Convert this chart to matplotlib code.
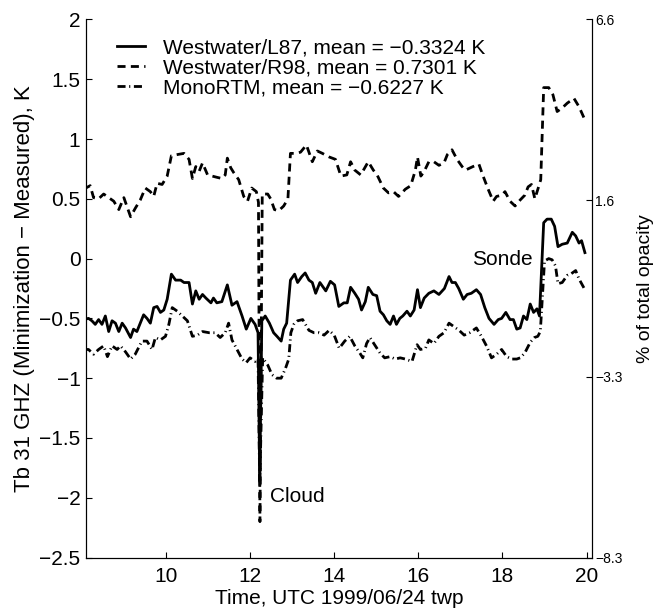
import numpy as np
import matplotlib
matplotlib.use("Agg")
import matplotlib.pyplot as plt

# Westwater/L87 (solid)
t_l87 = [8.04, 8.16, 8.24, 8.32, 8.40, 8.48, 8.56, 8.64, 8.72, 8.80, 8.88, 8.96, 9.04, 9.16,
         9.23, 9.31, 9.39, 9.47, 9.55, 9.63, 9.71, 9.79, 9.87, 9.95, 10.03, 10.13, 10.23, 10.35,
         10.43, 10.55, 10.63, 10.71, 10.79, 10.87, 10.95, 11.07, 11.13, 11.21, 11.33, 11.46, 11.57,
         11.69, 11.81, 11.91, 12.02, 12.12, 12.19, 12.23, 12.28, 12.36, 12.46, 12.56, 12.64, 12.74,
         12.80, 12.87, 12.96, 13.06, 13.13, 13.23, 13.31, 13.40, 13.48, 13.56, 13.66, 13.80, 13.91,
         14.01, 14.11, 14.23, 14.31, 14.39, 14.49, 14.58, 14.65, 14.74, 14.81, 14.92, 15.01, 15.09,
         15.17, 15.25, 15.33, 15.41, 15.48, 15.56, 15.63, 15.73, 15.81, 15.90, 15.98, 16.05, 16.14,
         16.25, 16.37, 16.49, 16.62, 16.73, 16.80, 16.88, 16.96, 17.07, 17.16, 17.26, 17.38, 17.48,
         17.58, 17.68, 17.80, 17.90, 17.98, 18.08, 18.18, 18.26, 18.34, 18.42, 18.50, 18.58, 18.66,
         18.74, 18.82, 18.88, 18.98, 19.06, 19.16, 19.24, 19.32, 19.42, 19.54, 19.66, 19.74, 19.82,
         19.88, 19.96]
tb_l87 = [-0.51, -0.50, -0.52, -0.55, -0.51, -0.55, -0.48, -0.61, -0.52, -0.54, -0.61, -0.54, -0.58, -0.66,
          -0.59, -0.61, -0.54, -0.47, -0.50, -0.54, -0.41, -0.40, -0.45, -0.43, -0.34, -0.13, -0.18, -0.18,
          -0.20, -0.20, -0.38, -0.27, -0.34, -0.30, -0.33, -0.37, -0.33, -0.37, -0.36, -0.22, -0.39,
          -0.36, -0.48, -0.59, -0.50, -0.55, -0.62, -1.85, -0.52, -0.48, -0.54, -0.62, -0.65, -0.69,
          -0.59, -0.54, -0.18, -0.13, -0.20, -0.15, -0.12, -0.18, -0.20, -0.29, -0.20, -0.27, -0.19,
          -0.22, -0.40, -0.37, -0.37, -0.24, -0.29, -0.34, -0.43, -0.36, -0.24, -0.30, -0.31, -0.44,
          -0.47, -0.52, -0.55, -0.48, -0.55, -0.50, -0.48, -0.44, -0.48, -0.43, -0.26, -0.41, -0.33,
          -0.29, -0.27, -0.30, -0.25, -0.15, -0.20, -0.20, -0.25, -0.34, -0.30, -0.29, -0.26, -0.30,
          -0.41, -0.50, -0.55, -0.51, -0.50, -0.45, -0.51, -0.51, -0.59, -0.58, -0.48, -0.51, -0.38,
          -0.45, -0.42, -0.48, 0.30, 0.33, 0.33, 0.27, 0.10, 0.12, 0.13, 0.22, 0.19, 0.13,
          0.15, 0.05]

# Westwater/R98 (dashed)
t_r98 = [8.04, 8.20, 8.28, 8.40, 8.52, 8.64, 8.76, 8.88, 9.00, 9.16, 9.27, 9.39, 9.51, 9.63,
         9.71, 9.79, 9.91, 10.03, 10.13, 10.27, 10.43, 10.55, 10.63, 10.71, 10.79, 10.87, 10.99,
         11.10, 11.21, 11.33, 11.41, 11.46, 11.54, 11.61, 11.73, 11.85, 11.94, 12.04, 12.15, 12.20,
         12.235, 12.29, 12.42, 12.49, 12.58, 12.68, 12.80, 12.90, 12.96, 13.08, 13.20, 13.34, 13.48,
         13.60, 13.72, 13.88, 14.03, 14.16, 14.30, 14.39, 14.49, 14.63, 14.81, 14.93, 15.02, 15.17,
         15.29, 15.41, 15.53, 15.69, 15.82, 15.93, 15.98, 16.06, 16.14, 16.25, 16.37, 16.49, 16.61,
         16.69, 16.80, 16.92, 17.04, 17.12, 17.30, 17.44, 17.54, 17.66, 17.78, 17.86, 17.98, 18.06,
         18.18, 18.30, 18.42, 18.53, 18.61, 18.69, 18.77, 18.85, 18.91, 18.98, 19.10, 19.20, 19.30,
         19.42, 19.54, 19.70, 19.82, 19.96]
tb_r98 = [0.58, 0.61, 0.51, 0.50, 0.54, 0.51, 0.48, 0.41, 0.51, 0.35, 0.42, 0.49, 0.59, 0.56,
          0.52, 0.63, 0.62, 0.69, 0.86, 0.87, 0.88, 0.83, 0.67, 0.77, 0.73, 0.80, 0.70,
          0.69, 0.68, 0.67, 0.70, 0.84, 0.76, 0.72, 0.66, 0.52, 0.48, 0.59, 0.56, 0.47,
          -2.20, 0.54, 0.54, 0.50, 0.41, 0.40, 0.44, 0.50, 0.88, 0.88, 0.89, 0.95, 0.81,
          0.90, 0.88, 0.85, 0.83, 0.69, 0.70, 0.81, 0.74, 0.70, 0.81, 0.74, 0.70, 0.59,
          0.55, 0.56, 0.52, 0.58, 0.61, 0.74, 0.85, 0.69, 0.73, 0.81, 0.81, 0.78, 0.80,
          0.87, 0.91, 0.83, 0.77, 0.74, 0.77, 0.79, 0.69, 0.58, 0.48, 0.52, 0.53, 0.56,
          0.48, 0.44, 0.49, 0.53, 0.60, 0.62, 0.50, 0.59, 0.66, 1.43, 1.43, 1.37, 1.23,
          1.26, 1.30, 1.34, 1.27, 1.16]

# MonoRTM (dash-dot)
t_mono = [8.04, 8.16, 8.28, 8.40, 8.52, 8.61, 8.72, 8.84, 8.92, 9.04, 9.16, 9.27, 9.43, 9.55,
          9.67, 9.75, 9.87, 9.99, 10.07, 10.15, 10.27, 10.39, 10.51, 10.63, 10.75, 10.87, 11.03,
          11.17, 11.29, 11.41, 11.49, 11.57, 11.69, 11.81, 11.91, 12.00, 12.12, 12.19, 12.23, 12.30,
          12.42, 12.52, 12.63, 12.74, 12.84, 12.92, 12.97, 13.04, 13.13, 13.25, 13.40, 13.52, 13.64,
          13.76, 13.88, 14.00, 14.12, 14.25, 14.37, 14.49, 14.61, 14.68, 14.77, 14.85, 14.96, 15.09,
          15.20, 15.33, 15.45, 15.57, 15.69, 15.85, 15.97, 16.05, 16.17, 16.25, 16.37, 16.49, 16.61,
          16.73, 16.85, 16.97, 17.09, 17.22, 17.38, 17.50, 17.62, 17.74, 17.86, 17.98, 18.10, 18.22,
          18.34, 18.42, 18.53, 18.66, 18.76, 18.84, 18.90, 19.00, 19.10, 19.18, 19.26, 19.32, 19.42,
          19.54, 19.62, 19.74, 19.82, 19.96]
tb_mono = [-0.76, -0.76, -0.80, -0.76, -0.73, -0.82, -0.73, -0.76, -0.73, -0.78, -0.84, -0.80, -0.69, -0.69,
           -0.76, -0.66, -0.68, -0.65, -0.55, -0.41, -0.44, -0.48, -0.52, -0.65, -0.64, -0.61, -0.62,
           -0.62, -0.66, -0.62, -0.54, -0.68, -0.76, -0.84, -0.87, -0.83, -0.86, -0.84, -1.90, -0.83,
           -0.89, -0.97, -1.00, -1.00, -0.92, -0.84, -0.62, -0.55, -0.52, -0.51, -0.60, -0.62, -0.62,
           -0.64, -0.60, -0.64, -0.75, -0.69, -0.65, -0.73, -0.79, -0.83, -0.71, -0.66, -0.72, -0.79,
           -0.83, -0.82, -0.84, -0.83, -0.84, -0.86, -0.72, -0.76, -0.75, -0.68, -0.71, -0.65, -0.62,
           -0.54, -0.57, -0.60, -0.64, -0.62, -0.58, -0.65, -0.73, -0.83, -0.80, -0.76, -0.82, -0.84,
           -0.84, -0.83, -0.79, -0.70, -0.66, -0.65, -0.61, -0.02, 0.00, -0.01, -0.06, -0.21, -0.20,
           -0.14, -0.13, -0.10, -0.17, -0.26]

labels = ["Westwater/L87, mean = \u22120.3324 K",
          "Westwater/R98, mean = 0.7301 K",
          "MonoRTM, mean = \u22120.6227 K"]

yticks = [2, 1.5, 1, 0.5, 0, -0.5, -1, -1.5, -2, -2.5]
ytick_labels = ["2", "1.5", "1", "0.5", "0", "\u22120.5", "\u22121", "\u22121.5", "\u22122", "\u22122.5"]
xticks = [10, 12, 14, 16, 18, 20]
opacity_ticks = [6.6, 1.6, -3.3, -8.3]
opacity_labels = ["6.6", "1.6", "\u22123.3", "\u22128.3"]

plt.rcParams['font.family'] = ['Liberation Sans', 'DejaVu Sans']
plt.rcParams['lines.scale_dashes'] = False

fig = plt.figure(figsize=(6.64, 6.08), dpi=100)
ax = fig.add_axes([0.1295, 0.083, 0.7628, 0.885])

ax.plot(t_l87, tb_l87, color='black', lw=2.0, label=labels[0])
ax.plot(t_r98, tb_r98, color='black', lw=2.0, dashes=(5.8, 3.8), label=labels[1])
ax.plot(t_mono, tb_mono, color='black', lw=2.0, dashes=(5.8, 2.6, 0.8, 2.6), label=labels[2])

ax.set_xlim(8.1, 20.14)
ax.set_ylim(-2.5, 2)
ax.set_xticks(xticks)
ax.set_yticks(yticks)
ax.set_yticklabels(ytick_labels)
ax.tick_params(direction='in', length=4, width=0.8, labelsize=15, pad=4)
ax.tick_params(axis='x', pad=7)
ax.spines['top'].set_visible(False)
ax.set_xlabel("Time, UTC 1999/06/24 twp", fontsize=15, labelpad=2)
ax.set_ylabel("Tb 31 GHZ (Minimization \u2212 Measured), K", fontsize=16, labelpad=3)

ax.text(12.48, -1.99, "Cloud", fontsize=15, ha='left', va='center')
ax.text(17.27, -0.01, "Sonde", fontsize=15, ha='left', va='center')

ax.legend(loc='upper left', bbox_to_anchor=(0.061, 0.965), frameon=False, fontsize=15,
          handlelength=1.35, handletextpad=0.85, labelspacing=0.05, borderpad=0, borderaxespad=0)

ax2 = ax.twinx()
ax2.set_ylim(-8.3, 6.6)
ax2.set_yticks(opacity_ticks)
ax2.set_yticklabels(opacity_labels)
ax2.tick_params(direction='in', length=4, width=0.8, labelsize=10, pad=2)
ax2.spines['top'].set_visible(False)
ax2.set_ylabel("% of total opacity", fontsize=14, labelpad=10)

fig.savefig("out.png", dpi=100)
